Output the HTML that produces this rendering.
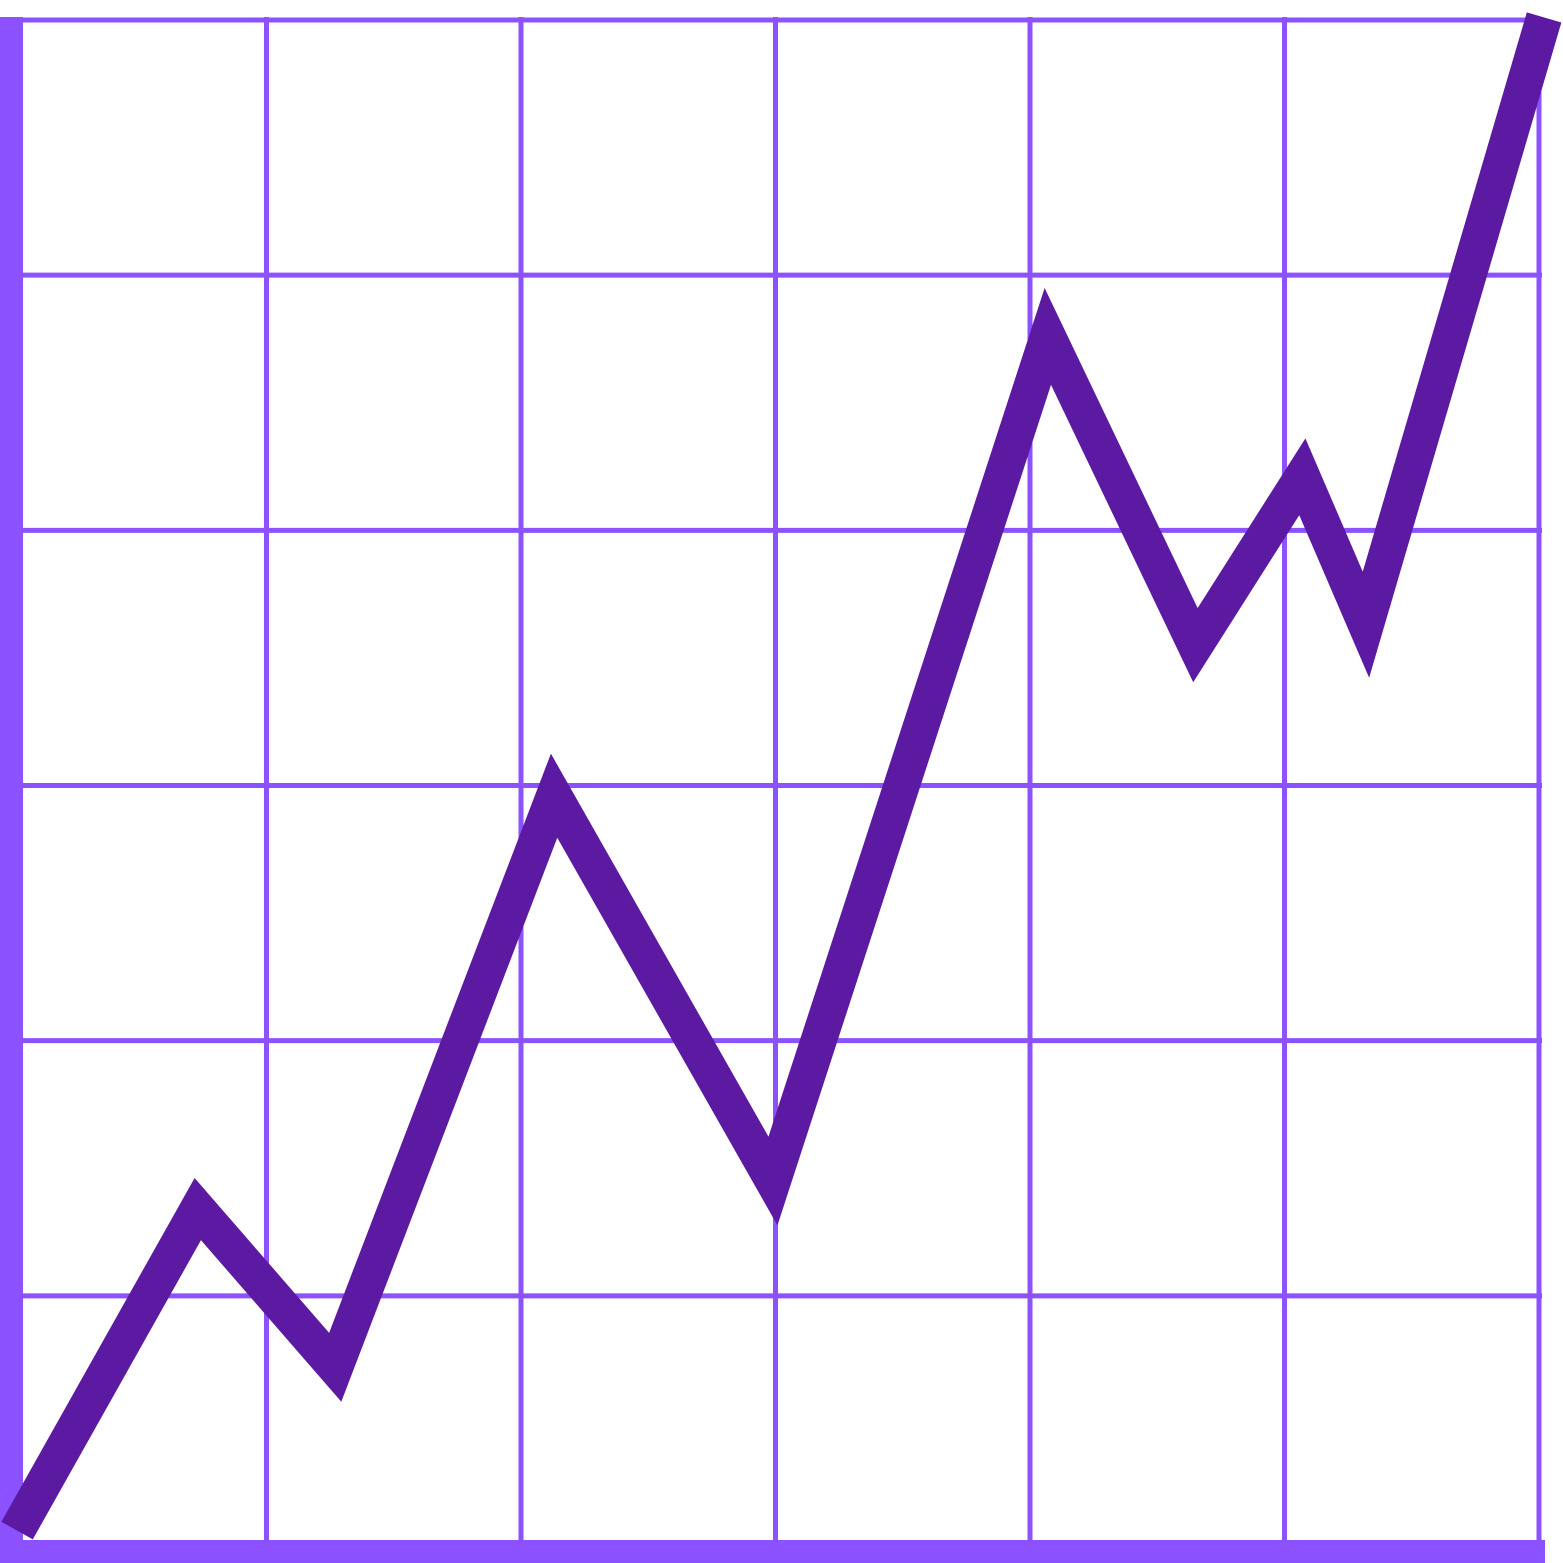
<!DOCTYPE html>
<html><head><meta charset="utf-8"><style>
html,body{margin:0;padding:0;background:#fff;width:1563px;height:1563px;overflow:hidden}
</style></head><body>
<svg id="chart" width="1563" height="1563" viewBox="0 0 1563 1563" xmlns="http://www.w3.org/2000/svg"></svg>
<script>
const xValues = [0.02, 0.73, 1.27, 2.13, 2.99, 4.07, 4.65, 5.07, 5.32, 6.02];
const yValues = [0.08, 1.34, 0.72, 2.96, 1.45, 4.76, 3.55, 4.21, 3.63, 6.01];
const gridTicks = [0, 1, 2, 3, 4, 5, 6];

const X0 = 12, X1 = 1539, Y0 = 1551, Y1 = 20;
const xs = v => X0 + (X1 - X0) * v / 6;
const ys = v => Y0 - (Y0 - Y1) * v / 6;
const svg = document.getElementById('chart');
const NS = 'http://www.w3.org/2000/svg';
function mk(tag, attrs){const e=document.createElementNS(NS,tag);for(const k in attrs)e.setAttribute(k,attrs[k]);svg.appendChild(e);return e;}

gridTicks.forEach(t => {
  const v = mk('line',{x1:xs(t),x2:xs(t),y1:Y1-3,y2:1541,stroke:'#8c52ff','stroke-width':5});
  
  
  const h = mk('line',{x1:22,x2:X1+3,y1:ys(t),y2:ys(t),stroke:'#8c52ff','stroke-width':5});
  
  
});
const ax = mk('rect',{x:0,y:17,width:23,height:1546,fill:'#8c52ff'});


const bx = mk('rect',{x:0,y:1540,width:1545,height:23,fill:'#8c52ff'});



const pts = xValues.map((x,i)=>xs(x)+','+ys(yValues[i])).join(' ');
const line = mk('polyline',{points:pts,fill:'none',stroke:'#5c19a2','stroke-width':36,'stroke-linejoin':'miter','stroke-miterlimit':10});


</script>
</body></html>
